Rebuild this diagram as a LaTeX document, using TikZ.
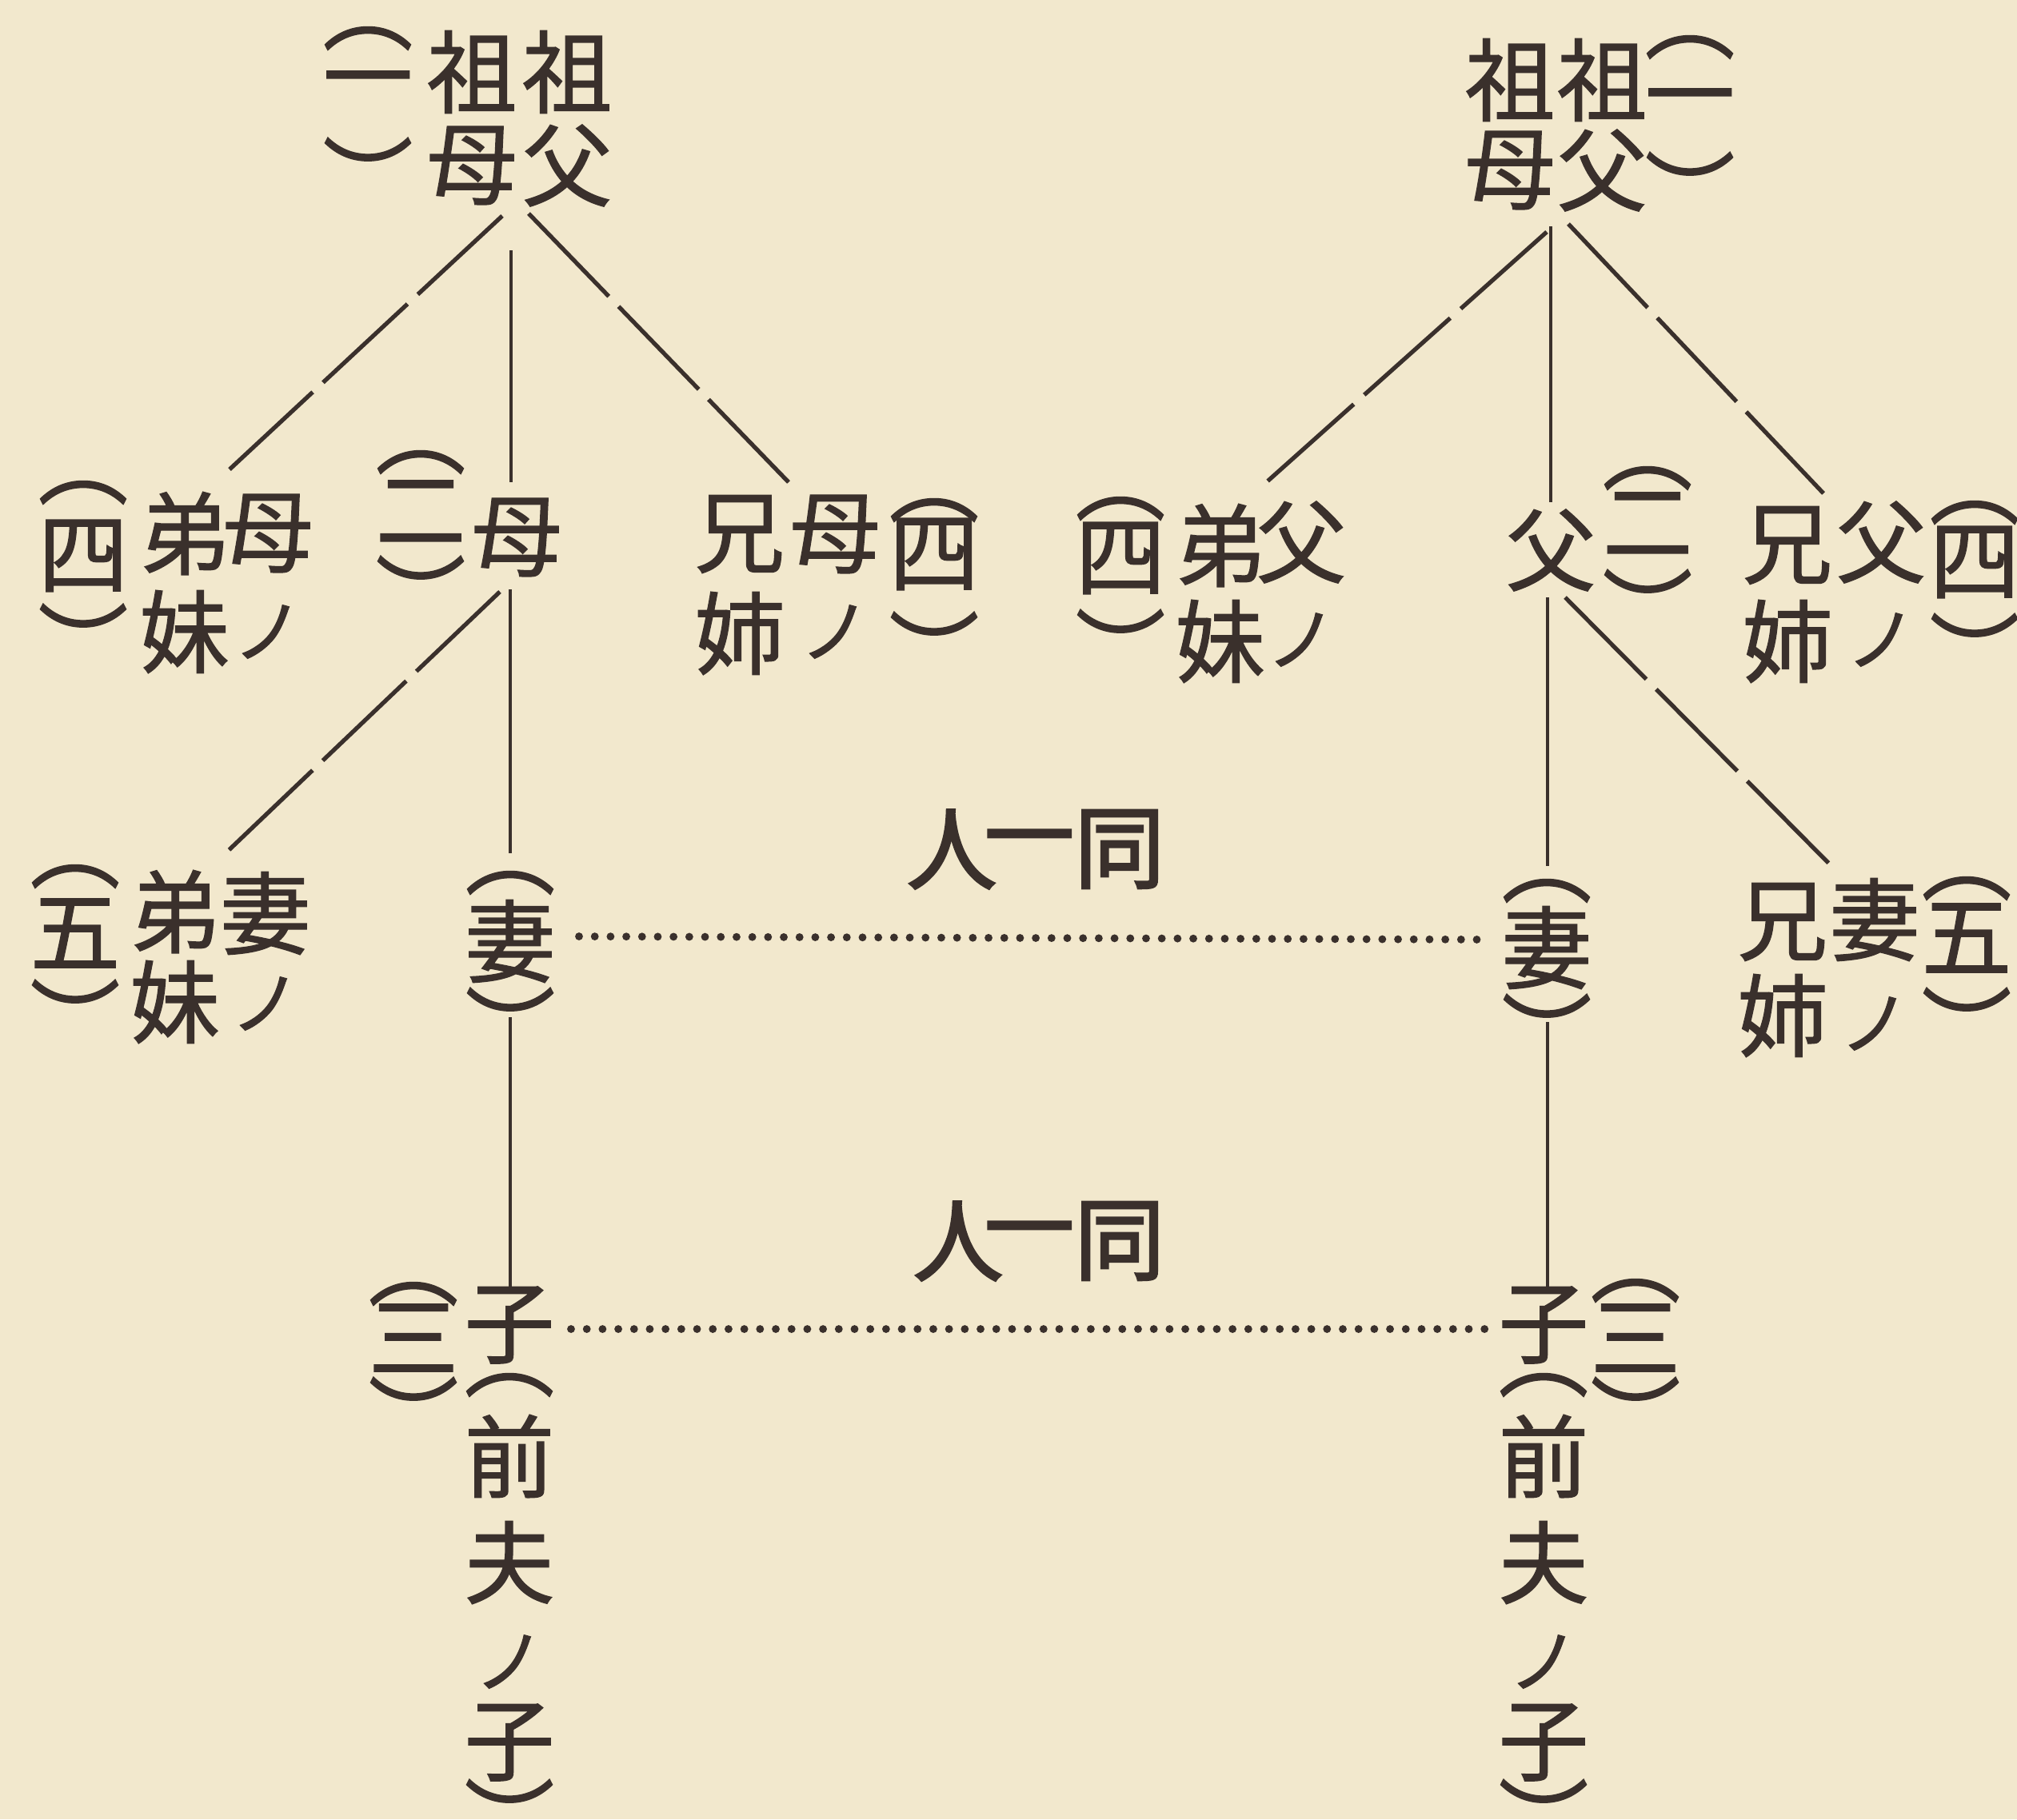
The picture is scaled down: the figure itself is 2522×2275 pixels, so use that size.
\documentclass[tikz,border=0pt]{standalone}
\usepackage{fontspec}
\newfontfamily\cjk[FakeBold=1.2]{Noto Sans CJK JP}
\newfontfamily\cjkb[FakeBold=2.5]{Noto Sans CJK JP}
\definecolor{paper}{RGB}{242,232,205}
\definecolor{inkc}{RGB}{58,48,44}
\tikzset{
  ch/.style={font=\cjk\fontsize{32}{32}\selectfont, text=inkc, inner sep=0pt},
  chb/.style={font=\cjkb\fontsize{32}{32}\selectfont, text=inkc, inner sep=0pt},
  smallno/.style={font=\cjk\fontsize{25}{25}\selectfont, text=inkc, inner sep=0pt},
  solidline/.style={draw=inkc, line width=1.1pt},
  dashline/.style={draw=inkc, line width=1.5pt, dash pattern=on 41pt off 5pt},
  dotline/.style={draw=inkc, line width=2.8pt, line cap=round, dash pattern=on 0pt off 5.6pt}
}
% column of glyphs: name, x, y of first, step, list
\newcommand\vcol[5]{\foreach \vc [count=\i from 0] in {#5} {\node[ch] (#1\i) at (#2,{#3+\i*#4}) {\vc};}}
% column "name" with first glyph and a small ノ below
\newcommand\vcolno[5]{\node[ch] (#1a) at (#2,#3) {#5}; \node[smallno] (#1b) at (#2,{#3+#4}) {ノ};}
% vertical parenthesised glyph: name, x, y of opening arc, y of glyph, y of closing arc, glyph
\newcommand\pcol[6]{%
  \node[ch] (#1a) at (#2,{#3+6}) {︵};
  \node[ch] (#1b) at (#2,#4) {#6};
  \node[ch] (#1c) at (#2,{#5+32}) {︶};}
\begin{document}
\begin{tikzpicture}[x=0.01cm,y=-0.01cm]
\fill[paper] (0,0) rectangle (2522,2275);
\useasboundingbox (0,0) rectangle (2522,2275);

% top-left
\pcol{TLp}{460}{42}{113}{187}{一}
\vcol{TLm}{590}{90}{117}{祖,母}
\vcol{TLf}{709}{90}{117}{祖,父}
% top-right
\vcol{TRm}{1888}{100}{113}{祖,母}
\vcol{TRf}{2003}{100}{113}{祖,父}
\pcol{TRp}{2113}{53}{135}{205}{一}

% middle-left
\pcol{MLp}{104}{610}{695}{770}{四}
\vcol{MLa}{231}{667}{123}{弟,妹}
\vcolno{MLb}{335}{667}{123}{母}
\pcol{MCp}{526}{572}{640}{710}{二}
\node[ch] (MCm) at (646,672) {母};
\vcol{MRa}{925}{668}{124}{兄,姉}
\vcolno{MRb}{1044}{668}{122}{母}
\pcol{MRp}{1168}{632}{693}{780}{四}

% middle-right
\pcol{NLp}{1401}{630}{698}{777}{四}
\vcol{NLa}{1526}{682}{120}{弟,妹}
\vcolno{NLb}{1627}{678}{122}{父}
\node[ch] (NCf) at (1939,688) {父};
\pcol{NCp}{2060}{592}{655}{727}{二}
\vcol{NRa}{2235}{682}{120}{兄,姉}
\vcolno{NRb}{2352}{678}{122}{父}
\pcol{NRp}{2469}{635}{703}{782}{四}

% lower-left
\pcol{LLp}{94}{1090}{1167}{1240}{五}
\vcol{LLa}{219}{1140}{113}{弟,妹}
\vcolno{LLb}{332}{1142}{113}{妻}
\pcol{LWp}{638}{1098}{1177}{1250}{妻}
% lower-right
\pcol{RWp}{1934}{1108}{1185}{1258}{妻}
\vcol{RRa}{2229}{1153}{117}{兄,姉}
\vcolno{RRb}{2344}{1150}{130}{妻}
\pcol{RRp}{2459}{1105}{1173}{1250}{五}

% same person labels
\node[chb] (S1a) at (1190,1062) {人};
\node[chb] (S1b) at (1287,1062) {一};
\node[chb] (S1c) at (1400,1062) {同};
\node[chb] (S2a) at (1198,1552) {人};
\node[chb] (S2b) at (1287,1552) {一};
\node[chb] (S2c) at (1400,1552) {同};

% bottom-left
\pcol{BLp}{517}{1612}{1673}{1737}{三}
\node[ch] (BLc) at (637,1657) {子};
\node[ch] (BLq1) at (637,1732) {︵};
\node[ch] (BLq2) at (637,1821) {前};
\node[ch] (BLq3) at (637,1954) {夫};
\node[smallno] (BLq4) at (637,2078) {ノ};
\node[ch] (BLq5) at (637,2179) {子};
\node[ch] (BLq6) at (637,2272) {︶};
% bottom-right
\node[ch] (BRc) at (1930,1657) {子};
\pcol{BRp}{2045}{1608}{1673}{1737}{三}
\node[ch] (BRq1) at (1930,1732) {︵};
\node[ch] (BRq2) at (1930,1821) {前};
\node[ch] (BRq3) at (1930,1954) {夫};
\node[smallno] (BRq4) at (1930,2078) {ノ};
\node[ch] (BRq5) at (1930,2179) {子};
\node[ch] (BRq6) at (1930,2272) {︶};

% connector end points
\coordinate (LapA) at (628,270);  \coordinate (LsibA) at (287,587);
\coordinate (LapV) at (639,313);  \coordinate (LmoV) at (639,603);
\coordinate (LapB) at (661,267);  \coordinate (LsibB) at (986,603);
\coordinate (LmoA) at (625,740);  \coordinate (LwsA) at (282,1067);
\coordinate (LmoB) at (638,737);  \coordinate (LwV) at (638,1067);
\coordinate (LwB) at (638,1272);  \coordinate (LcV) at (638,1612);
\coordinate (RapA) at (1934,290); \coordinate (RsibA) at (1579,607);
\coordinate (RapV) at (1939,283); \coordinate (RfaV) at (1939,628);
\coordinate (RapB) at (1961,280); \coordinate (RsibB) at (2280,617);
\coordinate (RfaB) at (1935,747); \coordinate (RwV) at (1935,1083);
\coordinate (RfaA) at (1957,747); \coordinate (RwsA) at (2287,1080);
\coordinate (RwB) at (1935,1278); \coordinate (RcV) at (1935,1612);
\coordinate (D1a) at (724,1171);  \coordinate (D1b) at (1865,1175);
\coordinate (D2a) at (714,1662);  \coordinate (D2b) at (1866,1662);

% connectors
\draw[dashline] (LapA) -- (LsibA);
\draw[solidline] (LapV) -- (LmoV);
\draw[dashline] (LapB) -- (LsibB);
\draw[dashline] (LmoA) -- (LwsA);
\draw[solidline] (LmoB) -- (LwV);
\draw[solidline] (LwB) -- (LcV);
\draw[dashline] (RapA) -- (RsibA);
\draw[solidline] (RapV) -- (RfaV);
\draw[dashline] (RapB) -- (RsibB);
\draw[solidline] (RfaB) -- (RwV);
\draw[dashline] (RfaA) -- (RwsA);
\draw[solidline] (RwB) -- (RcV);
\draw[dotline] (D1a) -- (D1b);
\draw[dotline] (D2a) -- (D2b);
\end{tikzpicture}
\end{document}
